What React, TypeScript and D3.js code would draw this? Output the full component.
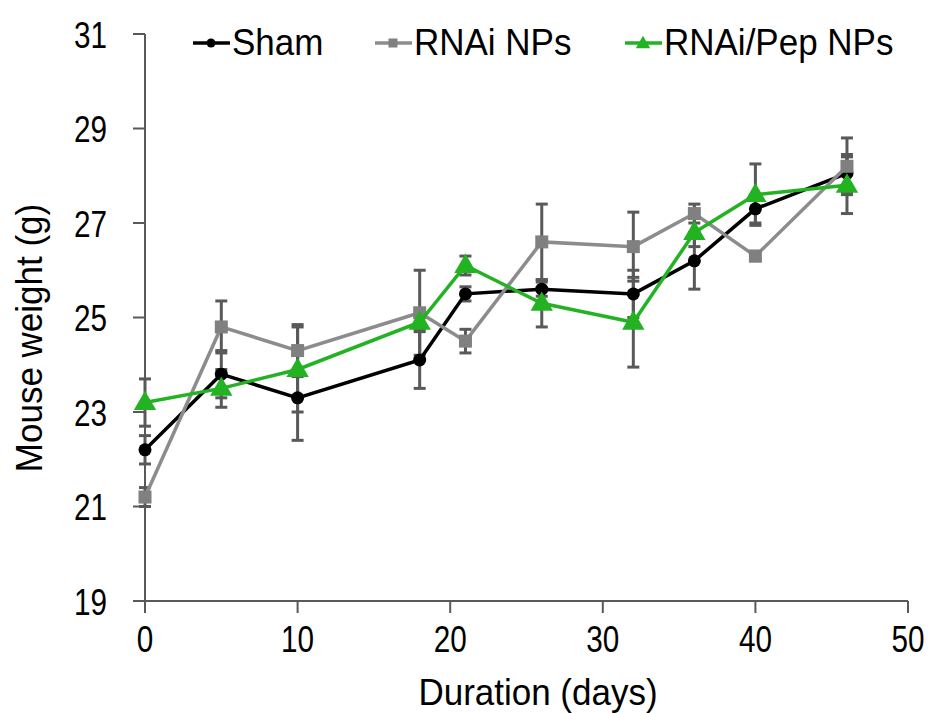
import * as d3 from "d3";

const days = [0, 5, 10, 18, 21, 26, 32, 36, 40, 46];
const shamValues = [22.2, 23.8, 23.3, 24.1, 25.5, 25.6, 25.5, 26.2, 27.3, 28.05];
const shamErr = [0.3, 0.5, 0.9, 0.6, 0.15, 0.15, 0.5, 0.6, 0.3, 0.4];
const rnaiValues = [21.2, 24.8, 24.3, 25.1, 24.5, 26.6, 26.5, 27.2, 26.3, 28.2];
const rnaiErr = [0.2, 0.55, 0.55, 0.9, 0.25, 0.8, 0.73, 0.2, 0.1, 0.6];
const pepValues = [23.2, 23.5, 23.9, 24.9, 26.1, 25.3, 24.9, 26.8, 27.6, 27.8];
const pepErr = [0.5, 0.4, 0.9, 0.15, 0.2, 0.5, 0.95, 0.3, 0.65, 0.6];
const xTicks = [0, 10, 20, 30, 40, 50];
const yTicks = [19, 21, 23, 25, 27, 29, 31];

type Series = { name: string; values: number[]; err: number[]; color: string; marker: "circle" | "square" | "triangle" };

const series: Series[] = [
  { name: "Sham", values: shamValues, err: shamErr, color: "#000000", marker: "circle" },
  { name: "RNAi NPs", values: rnaiValues, err: rnaiErr, color: "#808080", marker: "square" },
  { name: "RNAi/Pep NPs", values: pepValues, err: pepErr, color: "#22b222", marker: "triangle" },
];

const W = 932;
const H = 713;
const m = { left: 145, right: 24, top: 34, bottom: 112 };
const font = "'Liberation Sans', Arial, sans-serif";
const axisColor = "#595959";

// text in the source is a bit taller than it is wide, so stretch it
function T({ x, y, anchor = "start", rotate = 0, sx = 1, sy = 1.08, size = 35, children }: any) {
  return (
    <text
      transform={`translate(${x},${y}) rotate(${rotate}) scale(${sx},${sy})`}
      textAnchor={anchor}
      fontSize={size}
      fill="#000"
    >
      {children}
    </text>
  );
}

function Marker({ kind, x, y, size, color }: { kind: string; x: number; y: number; size: number; color: string }) {
  if (kind === "circle") return <circle cx={x} cy={y} r={size / 2} fill={color} />;
  if (kind === "square") return <rect x={x - size / 2} y={y - size / 2} width={size} height={size} fill={color} />;
  const sym = d3.symbol(d3.symbolTriangle, size * size * 0.75)();
  return <path d={sym!} transform={`translate(${x},${y + 1})`} fill={color} />;
}

export default function App() {
  const x = d3.scaleLinear().domain([0, 50]).range([m.left, W - m.right]);
  const y = d3.scaleLinear().domain([19, 31]).range([H - m.bottom, m.top]);
  const line = d3
    .line<number>()
    .x((_d, i) => x(days[i]))
    .y((d) => y(d));

  const legend = [
    { s: series[0], x0: 193 },
    { s: series[1], x0: 375 },
    { s: series[2], x0: 625 },
  ];

  return (
    <svg width={W} height={H} style={{ position: "absolute", left: 0, top: 0, background: "#fff" }} fontFamily={font}>
      {/* axes */}
      <line x1={x(0)} x2={x(0)} y1={y(31)} y2={y(19)} stroke={axisColor} strokeWidth={2} />
      <line x1={x(0)} x2={x(50)} y1={y(19)} y2={y(19)} stroke={axisColor} strokeWidth={2} />
      {yTicks.map((t) => (
        <g key={"y" + t}>
          <line x1={x(0) - 12} x2={x(0)} y1={y(t)} y2={y(t)} stroke={axisColor} strokeWidth={2} />
          <T x={107} y={y(t) + 13.5} anchor="end" size={33} sx={0.9} sy={1.12}>
            {t}
          </T>
        </g>
      ))}
      {xTicks.map((t) => (
        <g key={"x" + t}>
          <line x1={x(t)} x2={x(t)} y1={y(19)} y2={y(19) + 12} stroke={axisColor} strokeWidth={2} />
          <T x={x(t)} y={652} anchor="middle" size={33} sx={0.9} sy={1.12}>
            {t}
          </T>
        </g>
      ))}
      <T x={538} y={705} anchor="middle">
        Duration (days)
      </T>
      <T x={42} y={338} anchor="middle" rotate={-90}>
        Mouse weight (g)
      </T>

      {/* error bars */}
      {series.map((s) =>
        s.values.map((v, i) => (
          <g key={s.name + "e" + i} stroke={axisColor} strokeWidth={3}>
            <line x1={x(days[i])} x2={x(days[i])} y1={y(v + s.err[i])} y2={y(v - s.err[i])} />
            <line x1={x(days[i]) - 6} x2={x(days[i]) + 6} y1={y(v + s.err[i])} y2={y(v + s.err[i])} />
            <line x1={x(days[i]) - 6} x2={x(days[i]) + 6} y1={y(v - s.err[i])} y2={y(v - s.err[i])} />
          </g>
        ))
      )}

      {/* lines and markers */}
      {series.map((s) => (
        <g key={s.name}>
          <path d={line(s.values)!} fill="none" stroke={s.color === "#808080" ? "#8c8c8c" : s.color} strokeWidth={3.5} />
          {s.values.map((v, i) => (
            <Marker key={i} kind={s.marker} x={x(days[i])} y={y(v)} size={s.marker === "triangle" ? 17 : 13} color={s.color} />
          ))}
        </g>
      ))}

      {/* legend */}
      {legend.map(({ s, x0 }) => (
        <g key={"l" + s.name}>
          <line x1={x0} x2={x0 + 37} y1={43} y2={43} stroke={s.color === "#808080" ? "#8c8c8c" : s.color} strokeWidth={3.5} />
          <Marker kind={s.marker} x={x0 + 18} y={43} size={s.marker === "triangle" ? 11 : 9} color={s.color} />
          <T x={x0 + 39} y={55}>
            {s.name}
          </T>
        </g>
      ))}
    </svg>
  );
}
